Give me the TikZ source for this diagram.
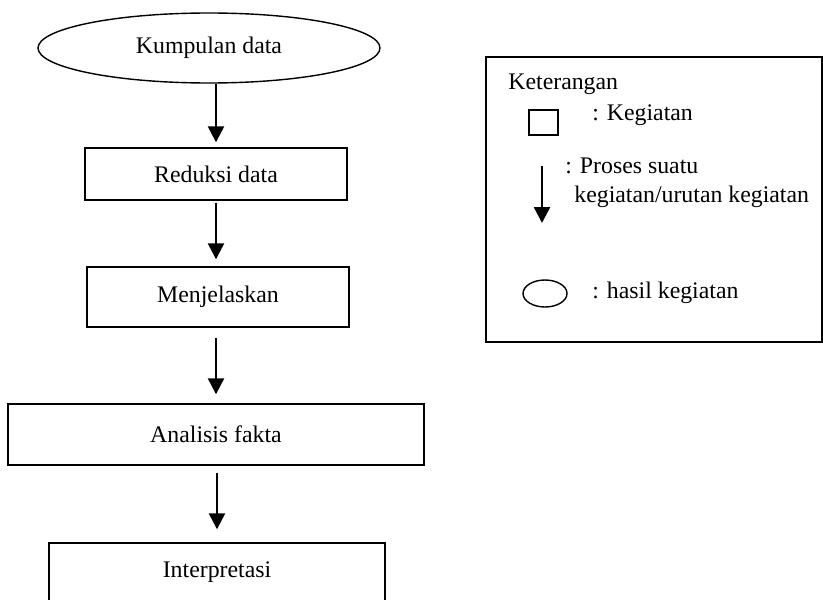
\documentclass[tikz,border=0pt]{standalone}
\usepackage{fontspec}
\setmainfont{Liberation Serif}
\usetikzlibrary{arrows.meta,shapes.geometric}

\begin{document}
\begin{tikzpicture}[
                x=0.5pt, y=-0.5pt,
                font=\fontsize{11.9}{14}\selectfont,
                act/.style={rectangle, draw=black, line width=0.7pt, inner sep=0pt, minimum width=131pt},
                res/.style={ellipse, draw=black, line width=0.7pt, inner sep=0pt},
                flow/.style={-{Triangle[length=8pt,width=8pt]}, line width=1.2pt},
                note/.style={anchor=base west, inner sep=0pt},
            ]
            \useasboundingbox (0,0) rectangle (823,599);
            % alur analisis
            \node[res, minimum width=171pt, minimum height=35pt] (kumpulan) at (209, 48) {Kumpulan data};
            \node[act, minimum height=26pt] (reduksi) at (216, 174) {Reduksi data};
            \node[act, minimum height=30pt] (menjelaskan) at (218, 297) {Menjelaskan};
            \node[act, minimum width=208pt, minimum height=30.5pt] (analisis) at (216, 434.5) {Analisis fakta};
            \node[act, minimum width=168pt, minimum height=29pt] (interpretasi) at (217, 572) {Interpretasi};

            \draw[flow, shorten >=2.5pt] (reduksi.north |- kumpulan.south) -- (reduksi.north);
            \draw[flow, shorten <=1pt, shorten >=3.5pt] (reduksi.south) -- (reduksi.south |- menjelaskan.north);
            \draw[flow, shorten <=5pt, shorten >=4.5pt] (analisis.north |- menjelaskan.south) -- (analisis.north);
            \draw[flow, shorten <=3.5pt, shorten >=6.5pt] (interpretasi.north |- analisis.south) -- (interpretasi.north);

            % keterangan
            \node[act, minimum width=168pt, minimum height=142.5pt] (legenda) at (654, 199.5) {};
            \node[note] (ketlabel) at (508, 90) {Keterangan};
            \node[act, minimum width=14.5pt, minimum height=12.5pt] (legkotak) at (543.5, 122.5) {};
            \node[note] (ketkotak) at (592, 120) {: Kegiatan};
            \coordinate (legpanahatas) at (542, 166);
            \coordinate (legpanahbawah) at (542, 223);
            \draw[flow] (legpanahatas) -- (legpanahbawah);
            \node[note] (ketpanah) at (565, 173) {: Proses suatu};
            \node[note] (ketpanahb) at (574, 202) {kegiatan/urutan kegiatan};
            \node[res, minimum width=22pt, minimum height=13.5pt] (legelips) at (545, 293.5) {};
            \node[note] (ketelips) at (592, 298) {: hasil kegiatan};
        \end{tikzpicture}
\end{document}
